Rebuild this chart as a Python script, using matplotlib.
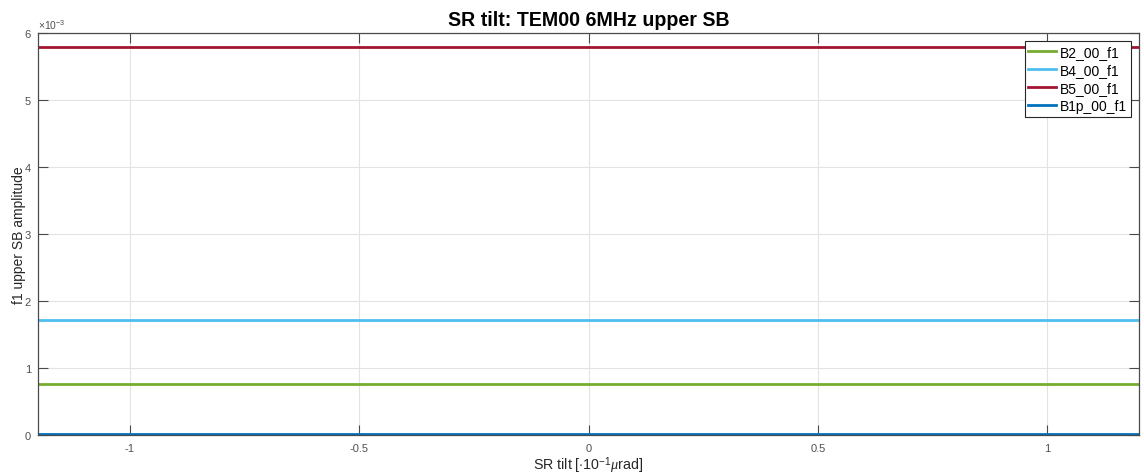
import matplotlib
matplotlib.use("Agg")
import matplotlib.pyplot as plt
from matplotlib.ticker import FixedLocator

# Data
x_tilt = [-1.2, -1.0, -0.8, -0.6, -0.4, -0.2, 0.0, 0.2, 0.4, 0.6, 0.8, 1.0, 1.2]
B2_00_f1 = [0.76e-3] * 13
B4_00_f1 = [1.715e-3] * 13
B5_00_f1 = [5.79e-3] * 13
B1p_00_f1 = [0.01e-3] * 13
series_names = ["B2_00_f1", "B4_00_f1", "B5_00_f1", "B1p_00_f1"]
x_ticks = [-1, -0.5, 0, 0.5, 1]
x_tick_labels = ["-1", "-0.5", "0", "0.5", "1"]
y_ticks = [0, 1, 2, 3, 4, 5, 6]

colors = ["#77AC30", "#4DBEEE", "#A2142F", "#0072BD"]
axcol = '#4a4a4a'

plt.rcParams['font.family'] = ['Liberation Sans', 'DejaVu Sans']
plt.rcParams['mathtext.fontset'] = 'custom'
plt.rcParams['mathtext.rm'] = 'Liberation Sans'
plt.rcParams['mathtext.it'] = 'Liberation Serif:italic'

fig = plt.figure(figsize=(11.44, 4.77), dpi=100)
ax = fig.add_axes([38/1144, 1 - 436/477, (1139-38)/1144, (436-34)/477])

for ys, c, n in zip([B2_00_f1, B4_00_f1, B5_00_f1, B1p_00_f1], colors, series_names):
    ax.plot(x_tilt, [v * 1e3 for v in ys], color=c, lw=2, label=n)

ax.set_xlim(-1.2, 1.2)
ax.set_ylim(0, 6)
ax.xaxis.set_major_locator(FixedLocator(x_ticks))
ax.set_xticklabels(x_tick_labels)
ax.set_yticks(y_ticks)
ax.tick_params(direction='in', length=7, width=0.8, colors=axcol, labelsize=8,
               top=True, right=True, labelcolor='#505050')
ax.tick_params(axis='x', pad=6)
ax.tick_params(axis='y', pad=5)
ax.grid(True, color='#e3e3e3', lw=0.8)
for s in ax.spines.values():
    s.set_color(axcol)
    s.set_linewidth(0.9)

ax.text(0.0, 1.005, r'$\times\mathregular{10^{-3}}$', transform=ax.transAxes,
        fontsize=7.5, color='#505050', ha='left', va='bottom')

ax.set_title('SR tilt: TEM00 6MHz upper SB', fontsize=14.1, fontweight='bold', pad=6)
ax.set_xlabel(r'SR tilt [$\cdot$10$^{-1}$$\mu$rad]', fontsize=10.3, color='#262626')
ax.set_ylabel('f1 upper SB amplitude', fontsize=10, color='#262626')
ax.xaxis.set_label_coords(0.5, -30/402, transform=ax.transAxes)
ax.xaxis.label.set_va('center')
ax.yaxis.set_label_coords(-19/1101, 0.5, transform=ax.transAxes)
ax.yaxis.label.set_va('center')

leg = ax.legend(loc='upper right', fontsize=10, frameon=True, fancybox=False,
                edgecolor='#262626', framealpha=1, handlelength=2.0, handletextpad=0.3,
                borderaxespad=0.6, labelspacing=0.3, borderpad=0.25)
leg.get_frame().set_linewidth(0.8)

fig.savefig("out.png", dpi=100)
